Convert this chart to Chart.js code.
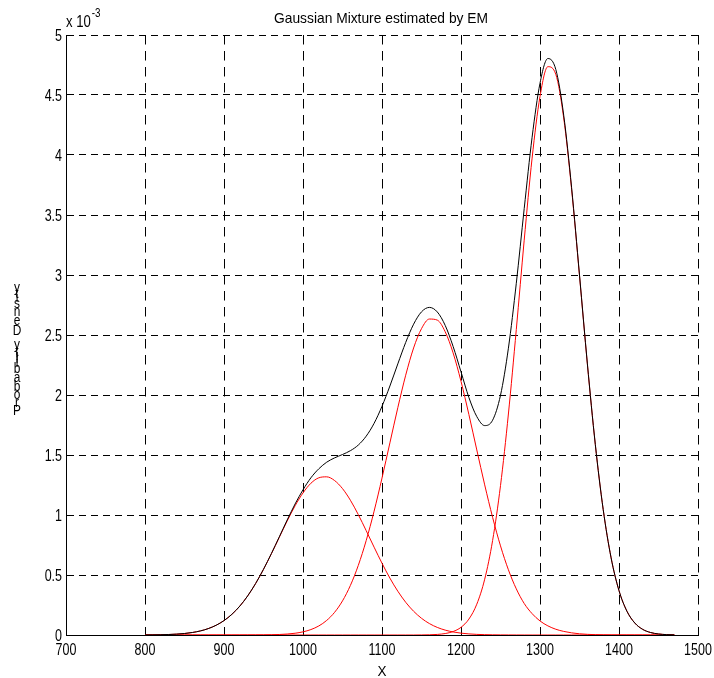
<!DOCTYPE html>
<html>
<head>
<meta charset="utf-8">
<script src="https://cdn.jsdelivr.net/npm/chart.js@4"></script>
<style>
  body { margin: 0; background: #fff; }
  canvas { display: block; }
</style>
</head>
<body>
<canvas id="chart" width="714" height="678"></canvas>
<script>
// data, y values are in units of 1e-3


const xVals = [800,810,820,830,840,850,860,870,880,890,900,910,920,930,940,950,960,970,980,990,
	1000,1010,1020,1030,1040,1050,1060,1070,1080,1090,1100,1110,1120,1130,1140,1150,1160,1170,1180,1190,
	1200,1210,1220,1230,1240,1250,1260,1270,1280,1290,1300,1310,1320,1330,1340,1350,1360,1370,1380,1390,
	1400,1410,1420,1430,1440,1450,1460,1470];

const mixture = [0.0006,0.0012,0.0023,0.0041,0.0073,0.0125,0.0209,0.0338,0.0532,0.0811,0.120,0.1725,0.2407,0.326,0.429,0.548,0.679,0.818,0.9585,1.092,
	1.210,1.310,1.385,1.440,1.476,1.504,1.536,1.583,1.657,1.764,1.906,2.075,2.259,2.438,2.590,2.693,2.730,2.692,2.580,2.405,
	2.193,1.979,1.820,1.745,1.790,1.998,2.390,2.931,3.553,4.148,4.598,4.804,4.713,4.332,3.728,3.000,2.259,1.589,1.046,0.643,
	0.370,0.1988,0.0999,0.0469,0.0206,0.0085,0.0032,0.0012];

const comp1 = [0.0006,0.0012,0.0023,0.0041,0.0073,0.0125,0.0209,0.0338,0.0532,0.0811,0.120,0.1725,0.2407,0.326,0.4286,0.547,0.677,0.814,0.9505,1.077,
	1.184,1.2645,1.310,1.318,1.287,1.220,1.123,1.003,0.8695,0.732,0.598,0.474,0.365,0.2727,0.1979,0.1393,0.0952,0.0632,0.0407,0.0254,
	0.0154,0.0091,0.0052,0.0029,0.0016,0.0008,0.0004,0.0002,0.0001,0,0,0,0,0,0,0,0,0,0,0,
	0,0,0,0,0,0,0,0];

const comp2 = [0,0,0,0,0,0,0,0,0,0,0,0,0,0.0002,0.0005,0.001,0.0021,0.0042,0.008,0.0147,
	0.0262,0.0452,0.0754,0.1215,0.189,0.2843,0.4132,0.5803,0.7872,1.032,1.308,1.601,1.894,2.165,2.392,2.553,2.633,2.624,2.527,2.351,
	2.114,1.837,1.542,1.251,0.9805,0.7426,0.5436,0.3844,0.2627,0.1780,0.1170,0.0760,0.0480,0.0300,0.0180,0.0100,0.0055,0.0028,0.0014,0.0006,
	0.0003,0.0001,0,0,0,0,0,0];

const comp3 = [0,0,0,0,0,0,0,0,0,0,0,0,0,0,0,0,0,0,0,0,
	0,0,0,0,0,0,0,0,0,0,0,0,0,0,0,0.0006,0.0018,0.0048,0.0122,0.0289,
	0.064,0.1326,0.2568,0.4649,0.787,1.245,1.8416,2.546,3.290,3.974,4.487,4.736,4.672,4.309,3.7145,2.993,2.255,1.5875,1.045,0.643,
	0.3697,0.1987,0.0999,0.0469,0.0206,0.0085,0.0032,0.0012];

const xTicks = [700,800,900,1000,1100,1200,1300,1400,1500];
const yTicks = [0,0.5,1,1.5,2,2.5,3,3.5,4,4.5,5];

const titleText = 'Gaussian Mixture estimated by EM';
const xLabel = 'X';
const yLabel = 'Probability Density';

const FONT = '"Liberation Sans", Arial, sans-serif';


function toPoints(ys){
	let pts = [];
	for(let i = 0; i < xVals.length; i++){
		pts.push({x: xVals[i], y: ys[i]});
	}
	return pts;
}

function curve(ys, color){
	return {
		data: toPoints(ys),
		borderColor: color,
		borderWidth: 1,
		pointRadius: 0,
		fill: false,
		cubicInterpolationMode: 'monotone'
	};
}

// the figure text is narrow and tall, so squeeze it sideways
function narrowText(ctx, text, x, y, sx, align){
	ctx.save();
	ctx.translate(x, y);
	ctx.scale(sx, 1);
	ctx.textAlign = align;
	ctx.fillText(text, 0, 0);
	ctx.restore();
}


// tick labels, title, exponent and the axis labels (the y label is drawn glyph by glyph, stacked)
const textPlugin = {
	id: 'texts',
	afterDraw(chart){
		const ctx = chart.ctx;
		const area = chart.chartArea;
		const xs = chart.scales.x;
		const ys = chart.scales.y;
		const midX = (area.left + area.right) / 2;
		ctx.save();
		ctx.fillStyle = '#000';
		ctx.textBaseline = 'alphabetic';

		ctx.font = '16px ' + FONT;
		xTicks.forEach(v => narrowText(ctx, String(v), xs.getPixelForValue(v), 655, 0.78, 'center'));
		yTicks.forEach(v => narrowText(ctx, String(v), 62, ys.getPixelForValue(v) + 5.8, 0.78, 'right'));

		ctx.font = '15px ' + FONT;
		narrowText(ctx, titleText, midX - 1, 23, 0.92, 'center');
		narrowText(ctx, xLabel, midX, 676, 0.9, 'center');

		ctx.font = '16px ' + FONT;
		narrowText(ctx, 'x 10', area.left, 27, 0.82, 'left');
		let w = ctx.measureText('x 10').width * 0.82;
		ctx.font = '12px ' + FONT;
		narrowText(ctx, '-3', area.left + w + 1, 17, 0.82, 'left');

		ctx.font = '14px ' + FONT;
		ctx.textAlign = 'center';
		ctx.textBaseline = 'middle';
		const chars = yLabel.split('');
		let widths = chars.map(c => ctx.measureText(c).width);
		let total = widths.reduce((a, b) => a + b, 0);
		const span = 132;
		const k = span / total;
		const centerY = 350;
		let cum = 0;
		for(let i = 0; i < chars.length; i++){
			const cy = centerY + span / 2 - (cum + widths[i] / 2) * k;
			narrowText(ctx, chars[i], 17, cy, 0.85, 'center');
			cum += widths[i];
		}
		ctx.restore();
	}
};


const ctx1 = document.getElementById('chart');

const mixChart = new Chart(ctx1, {
	type: 'line',
	data: {
		datasets: [
			curve(mixture, '#000000'),
			curve(comp1, '#ff0000'),
			curve(comp2, '#ff0000'),
			curve(comp3, '#ff0000')
		]
	},
	options: {
		responsive: false,
		animation: false,
		devicePixelRatio: 1,
		layout: {
			padding: {top: 35, right: 16, left: 0, bottom: 0}
		},
		plugins: {
			legend: {display: false},
			tooltip: {enabled: false}
		},
		scales: {
			x: {
				type: 'linear',
				min: 700,
				max: 1500,
				afterBuildTicks: function(scale){
					scale.ticks = xTicks.map(v => ({value: v}));
				},
				afterFit: function(scale){
					scale.height = 43;
					scale.paddingLeft = 0;
					scale.paddingRight = 0;
				},
				grid: {
					color: '#000',
					lineWidth: 1,
					drawTicks: true,
					tickLength: -5,
					tickColor: '#000',
					tickBorderDash: []
				},
				border: {
					display: true,
					color: '#000',
					width: 1,
					dash: [9.5, 6.5]
				},
				ticks: {display: false}
			},
			y: {
				type: 'linear',
				min: 0,
				max: 5,
				afterBuildTicks: function(scale){
					scale.ticks = yTicks.map(v => ({value: v}));
				},
				afterFit: function(scale){
					scale.width = 66;
					scale.paddingTop = 0;
					scale.paddingBottom = 0;
				},
				grid: {
					color: '#000',
					lineWidth: 1,
					drawTicks: true,
					tickLength: -5,
					tickColor: '#000',
					tickBorderDash: []
				},
				border: {
					display: true,
					color: '#000',
					width: 1,
					dash: [7, 5]
				},
				ticks: {display: false}
			}
		}
	},
	plugins: [textPlugin]
});
</script>
</body>
</html>
